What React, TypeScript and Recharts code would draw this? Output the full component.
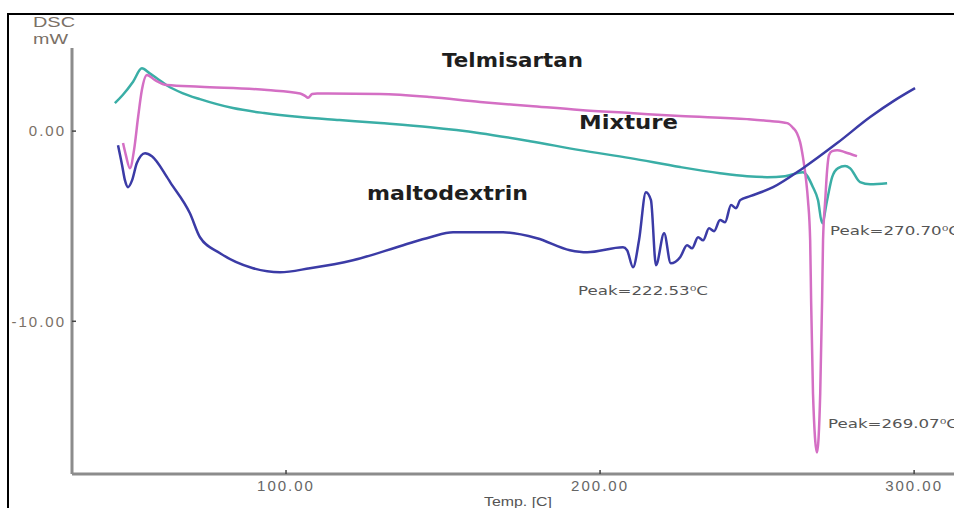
import React from "react";
import { LineChart, Line, XAxis, YAxis } from "recharts";

// Telmisartan (pink)
const telmisartanTemp = [48.1, 49.0, 50.3, 51.6, 52.9, 54.1, 55.7, 58.3, 62.1, 72.6, 94.0, 104.5, 106.1, 107.0, 108.3, 109.9, 129.9, 145.9, 161.8, 177.7, 193.6, 209.6, 225.5, 246.8, 254.1, 259.6, 261.5, 262.7, 263.7, 264.6, 265.6, 266.2, 266.9, 267.2, 267.8, 269.07, 270.1, 270.7, 271.0, 271.7, 272.3, 272.9, 273.9, 275.5, 278.0, 281.8];
const telmisartanMw = [-0.63, -1.26, -1.95, -1.0, 0.74, 2.16, 2.95, 2.68, 2.42, 2.33, 2.16, 1.98, 1.85, 1.75, 1.95, 1.98, 1.95, 1.79, 1.53, 1.32, 1.11, 0.95, 0.79, 0.63, 0.53, 0.42, 0.16, -0.11, -0.58, -1.37, -2.58, -3.63, -5.74, -8.89, -13.79, -16.89, -13.79, -8.89, -5.74, -3.63, -2.05, -1.26, -1.05, -1.0, -1.11, -1.32];

// Mixture (teal)
const mixtureTemp = [45.5, 48.0, 51.3, 54.1, 56.5, 59.5, 62.1, 67.0, 72.6, 83.1, 93.0, 104.5, 117.0, 130.0, 145.9, 161.8, 177.7, 193.6, 209.6, 225.5, 238.2, 246.8, 253.2, 258.9, 264.6, 267.8, 269.4, 270.7, 272.3, 273.9, 275.8, 278.0, 279.6, 282.8, 286.0, 291.4];
const mixtureMw = [1.47, 1.9, 2.6, 3.3, 3.05, 2.7, 2.4, 2.0, 1.68, 1.21, 0.95, 0.74, 0.58, 0.42, 0.2, -0.11, -0.53, -1.0, -1.42, -1.89, -2.21, -2.37, -2.42, -2.37, -2.16, -2.95, -3.63, -4.84, -3.63, -2.42, -1.95, -1.84, -1.95, -2.68, -2.79, -2.74];

// Maltodextrin (blue)
const maltodextrinTemp = [46.5, 47.8, 48.7, 49.7, 51.0, 52.5, 55.1, 57.3, 62.1, 63.1, 69.4, 72.6, 79.0, 89.5, 98.1, 107.6, 121.3, 137.3, 145.9, 153.2, 169.1, 179.9, 190.4, 195.9, 207.3, 208.6, 210.5, 212.4, 214.6, 216.2, 217.8, 220.4, 222.5, 225.5, 227.7, 229.3, 231.2, 232.8, 234.7, 236.3, 238.2, 239.8, 241.7, 243.3, 244.6, 247.8, 255.1, 264.6, 275.5, 286.0, 293.9, 300.3];
const maltodextrinMw = [-0.74, -1.79, -2.58, -2.95, -2.58, -1.68, -1.16, -1.32, -2.42, -2.68, -4.32, -5.58, -6.42, -7.21, -7.42, -7.21, -6.79, -6.0, -5.58, -5.32, -5.32, -5.63, -6.26, -6.37, -6.11, -6.26, -7.16, -5.74, -3.21, -3.63, -7.05, -5.37, -6.95, -6.63, -6.0, -6.16, -5.58, -5.74, -5.11, -5.26, -4.68, -4.79, -3.89, -4.05, -3.63, -3.42, -2.95, -1.95, -0.63, 0.74, 1.63, 2.26];

const xTicks = [100, 200, 300];
const yTicks = [0, -10];

const toData = (ts: number[], vs: number[]) => ts.map((t, i) => ({ t, v: vs[i] }));

const telmisartanData = toData(telmisartanTemp, telmisartanMw);
const mixtureData = toData(mixtureTemp, mixtureMw);
const maltodextrinData = toData(maltodextrinTemp, maltodextrinMw);

const axisGray = "#8c8c8c";
const tickFont = "Liberation Sans, Arial, sans-serif";

const XTick = (props: any) => {
  const { x, y, payload } = props;
  return (
    <g>
      <line x1={x} x2={x} y1={y - 6} y2={y - 10} stroke="#444" strokeWidth={1.5} />
      <text x={x} y={y} dy="0.71em" textAnchor="middle" fontSize={15} fill="#666" fontFamily={tickFont} letterSpacing={2}>
        {Number(payload.value).toFixed(2)}
      </text>
    </g>
  );
};

const YTick = (props: any) => {
  const { x, y, payload } = props;
  return (
    <g>
      <line x1={x + 6} x2={x + 10} y1={y} y2={y} stroke="#444" strokeWidth={1.5} />
      <text x={x} y={y} dy="0.355em" textAnchor="end" fontSize={15} fill="#7a7066" fontFamily={tickFont} letterSpacing={2}>
        {Number(payload.value).toFixed(2)}
      </text>
    </g>
  );
};

export default function App() {
  return (
    <div style={{ position: "absolute", left: 0, top: 0, width: 954, height: 508, background: "#fff", overflow: "hidden" }}>
      <LineChart width={954} height={508} margin={{ top: 48, right: 0, bottom: 0, left: 0 }}>
        <XAxis
          dataKey="t"
          type="number"
          domain={[31.85, 312.7]}
          ticks={xTicks}
          allowDataOverflow
          axisLine={{ stroke: axisGray, strokeWidth: 3 }}
          tickLine={false}
          tickSize={0}
          tickMargin={6}
          height={34}
          tick={<XTick />}
        />
        <XAxis
          xAxisId="top"
          orientation="top"
          dataKey="t"
          type="number"
          domain={[31.85, 312.7]}
          allowDataOverflow
          tick={false}
          tickLine={false}
          axisLine={{ stroke: axisGray, strokeWidth: 3 }}
          height={0}
        />
        <YAxis
          type="number"
          domain={[-18.03, 4.37]}
          ticks={yTicks}
          allowDataOverflow
          axisLine={{ stroke: axisGray, strokeWidth: 3 }}
          tickLine={false}
          tickSize={0}
          tickMargin={6}
          width={72}
          tick={<YTick />}
        />
        <Line data={mixtureData} dataKey="v" type="monotone" stroke="#3aaea6" strokeWidth={2.5} dot={false} isAnimationActive={false} />
        <Line data={telmisartanData} dataKey="v" type="monotone" stroke="#d46fc4" strokeWidth={2.5} dot={false} isAnimationActive={false} />
        <Line data={maltodextrinData} dataKey="v" type="monotone" stroke="#3b3ba6" strokeWidth={2.5} dot={false} isAnimationActive={false} />
      </LineChart>
      <div style={{ position: "absolute", left: 7, top: 13, width: 2, height: 495, background: "#000" }} />
      <div style={{ position: "absolute", left: 7, top: 13, width: 947, height: 2, background: "#000" }} />
      <svg width={954} height={508} style={{ position: "absolute", left: 0, top: 0, pointerEvents: "none" }}>
        <text x={33} y={27} fontSize={15} fontFamily={tickFont} fill="#7a7066" textLength={42} lengthAdjust="spacingAndGlyphs">DSC</text>
        <text x={33} y={44} fontSize={15} fontFamily={tickFont} fill="#7a7066" textLength={35} lengthAdjust="spacingAndGlyphs">mW</text>
        <text x={442} y={67} fontSize={19} fontWeight="bold" fontFamily="DejaVu Sans, sans-serif" fill="#1e1e1e" textLength={141} lengthAdjust="spacingAndGlyphs">Telmisartan</text>
        <text x={579} y={129} fontSize={19} fontWeight="bold" fontFamily="DejaVu Sans, sans-serif" fill="#1e1e1e" textLength={99} lengthAdjust="spacingAndGlyphs">Mixture</text>
        <text x={367} y={200} fontSize={20} fontWeight="bold" fontFamily="DejaVu Sans, sans-serif" fill="#1e1e1e" textLength={161} lengthAdjust="spacingAndGlyphs">maltodextrin</text>
        <text x={578} y={295} fontSize={12} fontFamily="DejaVu Sans, sans-serif" fill="#555" textLength={130} lengthAdjust="spacingAndGlyphs">Peak=222.53⁰C</text>
        <text x={830} y={235} fontSize={12} fontFamily="DejaVu Sans, sans-serif" fill="#555" textLength={130} lengthAdjust="spacingAndGlyphs">Peak=270.70⁰C</text>
        <text x={828} y={428} fontSize={12} fontFamily="DejaVu Sans, sans-serif" fill="#555" textLength={130} lengthAdjust="spacingAndGlyphs">Peak=269.07⁰C</text>
        <text x={484} y={506} fontSize={13} fontFamily={tickFont} fill="#555" textLength={68} lengthAdjust="spacingAndGlyphs">Temp. [C]</text>
      </svg>
    </div>
  );
}
